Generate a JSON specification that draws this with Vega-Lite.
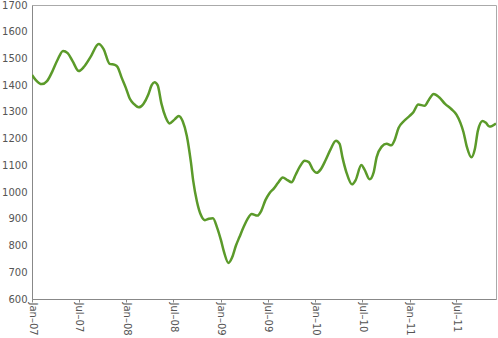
{
  "$schema": "https://vega.github.io/schema/vega-lite/v6.json",
  "width": 464,
  "height": 294,
  "autosize": {"type": "none"},
  "padding": {"left": 32, "top": 5, "right": 2, "bottom": 39},
  "background": "white",
  "config": {
    "view": {"stroke": "#aaaaaa", "strokeWidth": 1},
    "axis": {"labelFont": "DejaVu Sans", "labelFontSize": 10, "labelColor": "#555555", "domainColor": "#888888", "tickColor": "#888888", "grid": false, "title": null}
  },
  "data": {"values": [
    {"date": "2007-01-01", "value": 1438},
    {"date": "2007-01-15", "value": 1420},
    {"date": "2007-02-08", "value": 1404},
    {"date": "2007-02-28", "value": 1415},
    {"date": "2007-03-20", "value": 1450},
    {"date": "2007-04-10", "value": 1495},
    {"date": "2007-05-01", "value": 1528},
    {"date": "2007-05-19", "value": 1520},
    {"date": "2007-06-07", "value": 1490},
    {"date": "2007-07-01", "value": 1453},
    {"date": "2007-07-22", "value": 1470},
    {"date": "2007-08-15", "value": 1505},
    {"date": "2007-09-16", "value": 1554},
    {"date": "2007-10-05", "value": 1535},
    {"date": "2007-10-28", "value": 1480},
    {"date": "2007-11-17", "value": 1476},
    {"date": "2007-11-28", "value": 1468},
    {"date": "2007-12-13", "value": 1430},
    {"date": "2007-12-30", "value": 1390},
    {"date": "2008-01-14", "value": 1350},
    {"date": "2008-01-30", "value": 1330},
    {"date": "2008-02-18", "value": 1317},
    {"date": "2008-03-07", "value": 1330},
    {"date": "2008-03-26", "value": 1365},
    {"date": "2008-04-08", "value": 1400},
    {"date": "2008-04-19", "value": 1411},
    {"date": "2008-05-01", "value": 1400},
    {"date": "2008-05-16", "value": 1330},
    {"date": "2008-06-01", "value": 1280},
    {"date": "2008-06-16", "value": 1257},
    {"date": "2008-07-06", "value": 1272},
    {"date": "2008-07-22", "value": 1285},
    {"date": "2008-08-06", "value": 1265},
    {"date": "2008-08-22", "value": 1210},
    {"date": "2008-09-07", "value": 1110},
    {"date": "2008-09-16", "value": 1040},
    {"date": "2008-09-30", "value": 965},
    {"date": "2008-10-15", "value": 915},
    {"date": "2008-10-31", "value": 895},
    {"date": "2008-11-15", "value": 900},
    {"date": "2008-12-01", "value": 902},
    {"date": "2008-12-16", "value": 870},
    {"date": "2009-01-01", "value": 820},
    {"date": "2009-01-13", "value": 775},
    {"date": "2009-01-30", "value": 735},
    {"date": "2009-02-13", "value": 755},
    {"date": "2009-02-28", "value": 800},
    {"date": "2009-03-14", "value": 833},
    {"date": "2009-03-30", "value": 870},
    {"date": "2009-04-14", "value": 900},
    {"date": "2009-04-30", "value": 918},
    {"date": "2009-05-22", "value": 912},
    {"date": "2009-06-06", "value": 930},
    {"date": "2009-06-22", "value": 970},
    {"date": "2009-07-07", "value": 995},
    {"date": "2009-07-25", "value": 1014},
    {"date": "2009-08-10", "value": 1035},
    {"date": "2009-08-28", "value": 1055},
    {"date": "2009-09-15", "value": 1045},
    {"date": "2009-10-01", "value": 1037},
    {"date": "2009-10-17", "value": 1065},
    {"date": "2009-11-02", "value": 1095},
    {"date": "2009-11-21", "value": 1117},
    {"date": "2009-12-07", "value": 1112},
    {"date": "2009-12-22", "value": 1085},
    {"date": "2010-01-06", "value": 1072},
    {"date": "2010-01-22", "value": 1085},
    {"date": "2010-02-10", "value": 1120},
    {"date": "2010-03-01", "value": 1160},
    {"date": "2010-03-22", "value": 1192},
    {"date": "2010-04-05", "value": 1180},
    {"date": "2010-04-16", "value": 1130},
    {"date": "2010-05-01", "value": 1075},
    {"date": "2010-05-23", "value": 1029},
    {"date": "2010-06-06", "value": 1045},
    {"date": "2010-06-28", "value": 1101},
    {"date": "2010-07-10", "value": 1085},
    {"date": "2010-07-30", "value": 1048},
    {"date": "2010-08-15", "value": 1075},
    {"date": "2010-08-26", "value": 1130},
    {"date": "2010-09-15", "value": 1170},
    {"date": "2010-10-04", "value": 1181},
    {"date": "2010-10-22", "value": 1175},
    {"date": "2010-11-04", "value": 1195},
    {"date": "2010-11-19", "value": 1240},
    {"date": "2010-12-09", "value": 1265},
    {"date": "2011-01-01", "value": 1285},
    {"date": "2011-01-16", "value": 1300},
    {"date": "2011-02-03", "value": 1328},
    {"date": "2011-02-28", "value": 1323},
    {"date": "2011-03-16", "value": 1345},
    {"date": "2011-04-04", "value": 1367},
    {"date": "2011-04-25", "value": 1355},
    {"date": "2011-05-18", "value": 1330},
    {"date": "2011-06-12", "value": 1310},
    {"date": "2011-07-01", "value": 1290},
    {"date": "2011-07-16", "value": 1260},
    {"date": "2011-07-28", "value": 1225},
    {"date": "2011-08-10", "value": 1170},
    {"date": "2011-08-28", "value": 1130},
    {"date": "2011-09-10", "value": 1160},
    {"date": "2011-09-22", "value": 1230},
    {"date": "2011-10-10", "value": 1266},
    {"date": "2011-10-22", "value": 1260},
    {"date": "2011-11-06", "value": 1245},
    {"date": "2011-12-01", "value": 1257}
  ]},
  "mark": {"type": "line", "color": "#5b9a2a", "strokeWidth": 2.5, "interpolate": "monotone", "clip": true},
  "encoding": {
    "x": {
      "field": "date", "type": "temporal",
      "scale": {"type": "utc", "domain": [{"year": 2007, "month": 1, "date": 1, "utc": true}, {"year": 2011, "month": 12, "date": 1, "utc": true}], "nice": false},
      "axis": {
        "labelExpr": "utcFormat(datum.value, '%b–%y')",
        "values": [
          {"year": 2007, "month": 1, "date": 1, "utc": true},
          {"year": 2007, "month": 7, "date": 1, "utc": true},
          {"year": 2008, "month": 1, "date": 1, "utc": true},
          {"year": 2008, "month": 7, "date": 1, "utc": true},
          {"year": 2009, "month": 1, "date": 1, "utc": true},
          {"year": 2009, "month": 7, "date": 1, "utc": true},
          {"year": 2010, "month": 1, "date": 1, "utc": true},
          {"year": 2010, "month": 7, "date": 1, "utc": true},
          {"year": 2011, "month": 1, "date": 1, "utc": true},
          {"year": 2011, "month": 7, "date": 1, "utc": true}
        ],
        "labelAngle": 90, "labelAlign": "left", "labelBaseline": "middle",
        "tickSize": 3, "labelPadding": 0, "labelFlush": false, "labelOverlap": false
      }
    },
    "y": {
      "field": "value", "type": "quantitative",
      "scale": {"domain": [600, 1700], "nice": false, "zero": false},
      "axis": {"format": "d", "values": [600, 700, 800, 900, 1000, 1100, 1200, 1300, 1400, 1500, 1600, 1700], "tickSize": 0, "labelPadding": 5}
    }
  }
}
